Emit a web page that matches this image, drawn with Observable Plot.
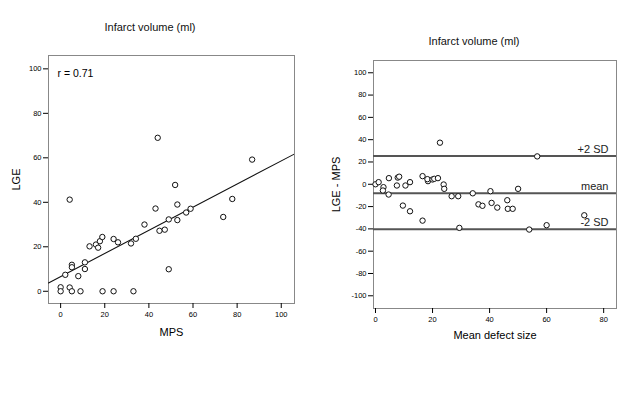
<!DOCTYPE html>
<html><head><meta charset="utf-8">
<script src="https://cdn.jsdelivr.net/npm/d3@7"></script>
<script src="https://cdn.jsdelivr.net/npm/@observablehq/plot@0.6"></script>
<style>
html,body{margin:0;padding:0;background:#fff;}
#wrap{position:relative;width:643px;height:408px;overflow:hidden;font-family:"Liberation Sans",Arial,sans-serif;}
.panel{position:absolute;top:0;}
.title{position:absolute;font-size:11px;color:#111;transform:translateX(-50%);white-space:nowrap;}
</style></head>
<body><div id="wrap"></div>
<script>
// Left panel: LGE vs MPS
const mps = [0,0,2.1,4.1,4.1,5.1,5.1,5.1,8,9,11,11,13.1,16,17,17.8,18.9,19,24,24,26,31.9,33,34.1,38,43,44,44.8,47.2,49,49,51.9,52.9,52.9,56.9,58.9,73.7,77.8,86.8];
const lge = [1.8,0,7.4,1.7,41.2,11.9,10.8,0,6.8,0,13,10,20.2,21,19.6,22.5,24.4,0,23.5,0,22,21.5,0,23.6,30,37.2,69,27.2,27.7,32.3,9.9,47.8,39,32,35.4,37.1,33.4,41.5,59.2];
const fitIntercept = 6.6;
const fitSlope = 0.52;
const rLabel = "r = 0.71";

// Right panel: Bland-Altman
const meanSize = [0,1.1,2.8,2.6,4.6,4.7,7.5,7.8,8.3,10.5,12.1,9.6,12.1,16.5,16.5,18.4,18.2,20,20.6,21.9,22.6,23.9,24.1,26.7,29,29.4,34.1,36.1,37.5,40.3,40.7,42.7,46.2,46.4,48.1,50,53.9,56.7,60,73.2];
const diff = [0,1.9,-2.6,-5.6,-9.2,5.5,-1.1,6.0,6.8,-1.1,1.9,-19.1,-24.2,-32.6,7.3,2.8,4.6,4.3,4.9,5.5,37.3,-0.2,-4.1,-10.7,-10.7,-39.1,-8.1,-18,-19.3,-6.2,-16.7,-20.9,-14.3,-22,-22,-4.1,-40.6,25,-36.7,-27.8];
const refValues = [25.3, -8.0, -40.4];
const refLabels = ["+2 SD", "mean", "-2 SD"];

const titleText = "Infarct volume (ml)";
const leftTicks = [0,20,40,60,80,100];
const rightXTicks = [0,20,40,60,80];
const rightYTicks = [-100,-80,-60,-40,-20,0,20,40,60,80,100];

const wrap = document.getElementById("wrap");
const FONT = "Liberation Sans, Arial, sans-serif";

const leftData = mps.map((x,i)=>({x, y: lge[i]}));
const xDomL = [-5.5, 106];
const fitLine = xDomL.map(x => ({x, y: fitIntercept + fitSlope*x}));

const left = Plot.plot({
  width: 310, height: 350,
  marginLeft: 48, marginRight: 16, marginTop: 55, marginBottom: 47,
  style: {fontFamily: FONT, fontSize: "7.5px", color: "#000", background: "transparent"},
  x: {domain: xDomL, ticks: leftTicks, label: null},
  y: {domain: [-5.5, 106], ticks: leftTicks, label: null},
  marks: [
    Plot.frame({stroke: "#888"}),
    Plot.axisX({ticks: leftTicks, tickSize: 5, tickPadding: 3, label: "MPS", labelAnchor: "center", labelArrow: "none", labelOffset: 32}),
    Plot.axisY({ticks: leftTicks, tickSize: 5, tickPadding: 2, label: "LGE", labelAnchor: "center", labelArrow: "none", labelOffset: 36}),
    Plot.line(fitLine, {x: "x", y: "y", stroke: "#111", strokeWidth: 1.1, clip: true}),
    Plot.dot(leftData, {x: "x", y: "y", r: 2.7, stroke: "#111", fill: "white", strokeWidth: 1}),
    Plot.text([rLabel], {frameAnchor: "top-left", text: d => d, dx: 9, dy: 14, fontSize: 10.5, textAnchor: "start"})
  ]
});

const rightData = meanSize.map((x,i)=>({x, y: diff[i]}));
const refData = refValues.map((v,i)=>({v, label: refLabels[i]}));

const right = Plot.plot({
  width: 323, height: 350,
  marginLeft: 53, marginRight: 27, marginTop: 60, marginBottom: 42,
  style: {fontFamily: FONT, fontSize: "7.5px", color: "#000", background: "transparent"},
  x: {domain: [-0.7, 84.5], ticks: rightXTicks, label: null},
  y: {domain: [-111.4, 111], ticks: rightYTicks, label: null},
  marks: [
    Plot.frame({stroke: "#888"}),
    Plot.axisX({ticks: rightXTicks, tickSize: 5, tickPadding: 3, label: "Mean defect size", labelAnchor: "center", labelArrow: "none", labelOffset: 30}),
    Plot.axisY({ticks: rightYTicks, tickSize: 5, tickPadding: 2, label: "LGE - MPS", labelAnchor: "center", labelArrow: "none", labelOffset: 41, tickFormat: d => d < 0 ? "-" + Math.abs(d) : String(d)}),
    Plot.ruleY(refData, {y: "v", stroke: "#555", strokeWidth: 2}),
    Plot.text(refData, {y: "v", text: "label", frameAnchor: "right", dx: -8, dy: -7, textAnchor: "end", fontSize: 11, fill: "#222"}),
    Plot.dot(rightData, {x: "x", y: "y", r: 2.7, stroke: "#111", fill: "white", strokeWidth: 1})
  ]
});

function place(el, leftPx){
  el.classList.add("panel");
  el.style.left = leftPx + "px";
  wrap.appendChild(el);
}
place(left, 0);
place(right, 320);

// axis label font sizes
for (const svg of [left, right]) {
  svg.querySelectorAll("g[aria-label='x-axis label'] text, g[aria-label='y-axis label'] text").forEach(t => t.setAttribute("font-size", "11"));
}

function title(x, y){
  const d = document.createElement("div");
  d.className = "title";
  d.textContent = titleText;
  d.style.left = x + "px";
  d.style.top = y + "px";
  wrap.appendChild(d);
}
title(150, 21);
title(474, 35);
</script></body></html>
